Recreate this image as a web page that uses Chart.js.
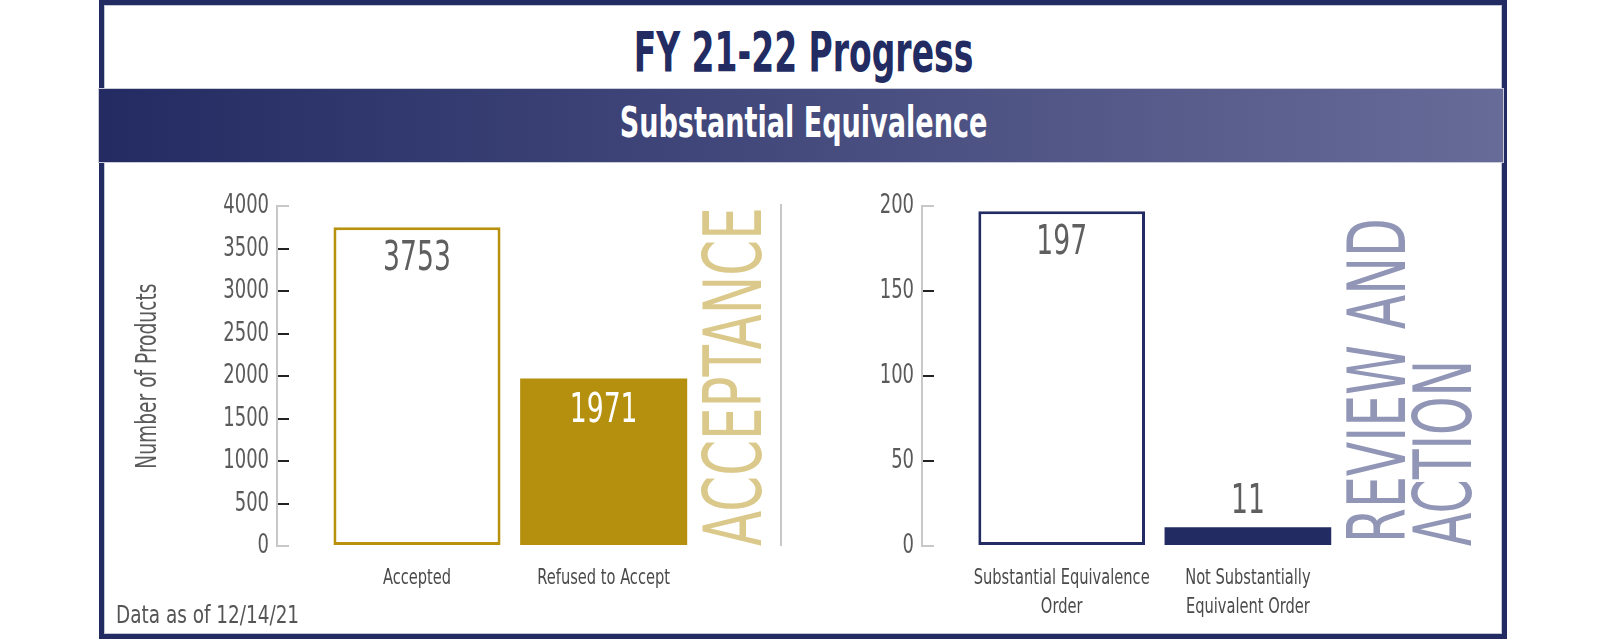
<!DOCTYPE html>
<html>
<head>
<meta charset="utf-8">
<script src="https://cdn.jsdelivr.net/npm/chart.js@4.4.0/dist/chart.umd.min.js"></script>
<style>
  body { margin: 0; background: #fff; }
  #page { position: relative; width: 1608px; height: 641px; overflow: hidden;
          font-family: 'DejaVu Sans Condensed', sans-serif; }
  .frame { position: absolute; left: 99px; top: 0; width: 1408px; height: 639px; box-sizing: border-box;
           border: 5px solid #232c62; box-shadow: inset 0 0 0 1px #c3c6d6; }
  .band { position: absolute; left: 99px; top: 89px; width: 1404px; height: 73px;
          background: linear-gradient(to right, #232b62, #676b98); box-shadow: 0 0 0 1px #c9cbd8; }
  .title, .subtitle { position: absolute; left: 0; width: 1607px; text-align: center; line-height: 1;
                      white-space: nowrap; font-weight: bold; }
  .title { top: 24px; font-size: 56px; color: #232c62; transform: scaleX(0.655); }
  .subtitle { top: 101px; font-size: 43px; color: #fff; transform: scaleX(0.70); }
  .vlabel { position: absolute; left: 0; top: 0; transform-origin: 0 0; font-size: 80px; line-height: 1;
            white-space: nowrap; }
  .sep { position: absolute; left: 780px; top: 204px; width: 2px; height: 342px; background: #c8c8c8; }
  .note { position: absolute; left: 116px; top: 602px; font-size: 25px; line-height: 1; color: #555;
          transform-origin: 0 0; transform: scaleX(0.82); white-space: nowrap; }
  canvas { position: absolute; }
</style>
</head>
<body>
<div id="page">
  <div class="frame"></div>
  <div class="band"></div>
  <div class="title">FY 21-22 Progress</div>
  <div class="subtitle">Substantial Equivalence</div>

  <canvas id="accChart" width="580" height="456" style="left:127px; top:170px;"></canvas>
  <canvas id="revChart" width="552" height="456" style="left:800px; top:170px;"></canvas>

  <div class="sep"></div>
  <div class="vlabel" style="color:#dbc98b; transform: translate(694px, 546px) rotate(-90deg) scaleX(0.715);">ACCEPTANCE</div>
  <div class="vlabel" style="color:#9196b6; transform: translate(1338px, 543px) rotate(-90deg) scaleX(0.70);">REVIEW AND</div>
  <div class="vlabel" style="color:#9196b6; transform: translate(1404px, 546px) rotate(-90deg) scaleX(0.68);">ACTION</div>
  <div class="note">Data as of 12/14/21</div>
</div>

<script>
// acceptance chart
const accCategories = [['Accepted'], ['Refused to Accept']];
const accValues = [3753, 1971];
const accTicks = [0, 500, 1000, 1500, 2000, 2500, 3000, 3500, 4000];

// review and action chart
const revCategories = [['Substantial Equivalence', 'Order'], ['Not Substantially', 'Equivalent Order']];
const revValues = [197, 11];
const revTicks = [0, 50, 100, 150, 200];

const FONT = "'DejaVu Sans Condensed', sans-serif";
const GOLD = '#b5900f';
const NAVY = '#232c62';
const SQUEEZE = 0.74;   // the original uses a narrow DIN-like face

// squeeze every canvas text around its anchor point
const condense = {
    id: 'condense',
    beforeInit(chart) {
        const ctx = chart.ctx;
        const fill = ctx.fillText.bind(ctx);
        ctx.fillText = function (text, x, y, maxWidth) {
            ctx.save();
            ctx.translate(x, y);
            ctx.scale(SQUEEZE, 1);
            if (maxWidth === undefined) fill(text, 0, 0);
            else fill(text, 0, 0, maxWidth / SQUEEZE);
            ctx.restore();
        };
    }
};

// numbers on top of / inside the bars
const valueLabels = {
    id: 'valueLabels',
    afterDatasetsDraw(chart) {
        const ctx = chart.ctx;
        const ds = chart.data.datasets[0];
        chart.getDatasetMeta(0).data.forEach(function (bar, i) {
            const inside = (bar.base - bar.y) > 60;
            ctx.save();
            ctx.font = '40px ' + FONT;
            ctx.fillStyle = ds.labelColors[i];
            ctx.textAlign = 'center';
            ctx.textBaseline = 'alphabetic';
            ctx.fillText(String(ds.data[i].y), bar.x, inside ? bar.y + 43 : bar.y - 14);
            ctx.restore();
        });
    }
};

function makeChart(id, categories, values, yTicks, yWidth, padRight, yTitle, colors) {
    const last = yTicks.length - 1;
    return new Chart(document.getElementById(id), {
        type: 'bar',
        data: {
            datasets: [{
                data: values.map((v, i) => ({ x: i, y: v })),
                backgroundColor: colors.fill,
                borderColor: colors.border,
                borderWidth: colors.width,
                borderSkipped: false,
                labelColors: colors.label,
                barPercentage: 1,
                categoryPercentage: 0.895
            }]
        },
        options: {
            responsive: false,
            devicePixelRatio: 1,
            animation: false,
            layout: { padding: { top: 6, right: padRight, left: 0, bottom: 0 } },
            plugins: { legend: { display: false }, tooltip: { enabled: false } },
            scales: {
                x: {
                    type: 'linear',
                    offset: false,
                    min: -0.75,
                    max: 1.5,
                    afterBuildTicks: s => { s.ticks = categories.map((c, i) => ({ value: i })); },
                    afterFit: s => { s.height = 80; s.paddingLeft = 0; s.paddingRight = 0; },
                    grid: { display: false, drawTicks: false },
                    border: { display: false },
                    ticks: {
                        padding: 18,
                        color: '#4a4a4a',
                        maxRotation: 0,
                        autoSkip: false,
                        font: { family: FONT, size: 22, lineHeight: 1.3 },
                        callback: v => categories[v]
                    }
                },
                y: {
                    min: 0,
                    max: yTicks[last],
                    afterBuildTicks: s => { s.ticks = yTicks.map(v => ({ value: v })); },
                    afterFit: s => { s.width = yWidth; },
                    border: { display: true, color: '#c8c8c8', width: 2 },
                    grid: {
                        drawOnChartArea: false,
                        drawTicks: true,
                        tickLength: -12,
                        lineWidth: 2,
                        color: c => (c.index === 0 || c.index === last) ? '#c8c8c8' : '#222'
                    },
                    ticks: {
                        padding: 20,
                        color: '#5a5a5a',
                        font: { family: FONT, size: 27 },
                        callback: v => String(v)
                    },
                    title: {
                        display: !!yTitle,
                        text: yTitle || '',
                        color: '#5a5a5a',
                        padding: { top: 5, bottom: 0 },
                        font: { family: FONT, size: 28 }
                    }
                }
            }
        },
        plugins: [condense, valueLabels]
    });
}

makeChart('accChart', accCategories, accValues, accTicks, 150, 10, 'Number of Products', {
    fill: ['#ffffff', GOLD],
    border: ['#b8920e', GOLD],
    width: [3, 0],
    label: ['#5f5f5f', '#ffffff']
});

makeChart('revChart', revCategories, revValues, revTicks, 122, 11, '', {
    fill: ['#ffffff', NAVY],
    border: [NAVY, NAVY],
    width: [3, 0],
    label: ['#5f5f5f', '#5f5f5f']
});
</script>
</body>
</html>
